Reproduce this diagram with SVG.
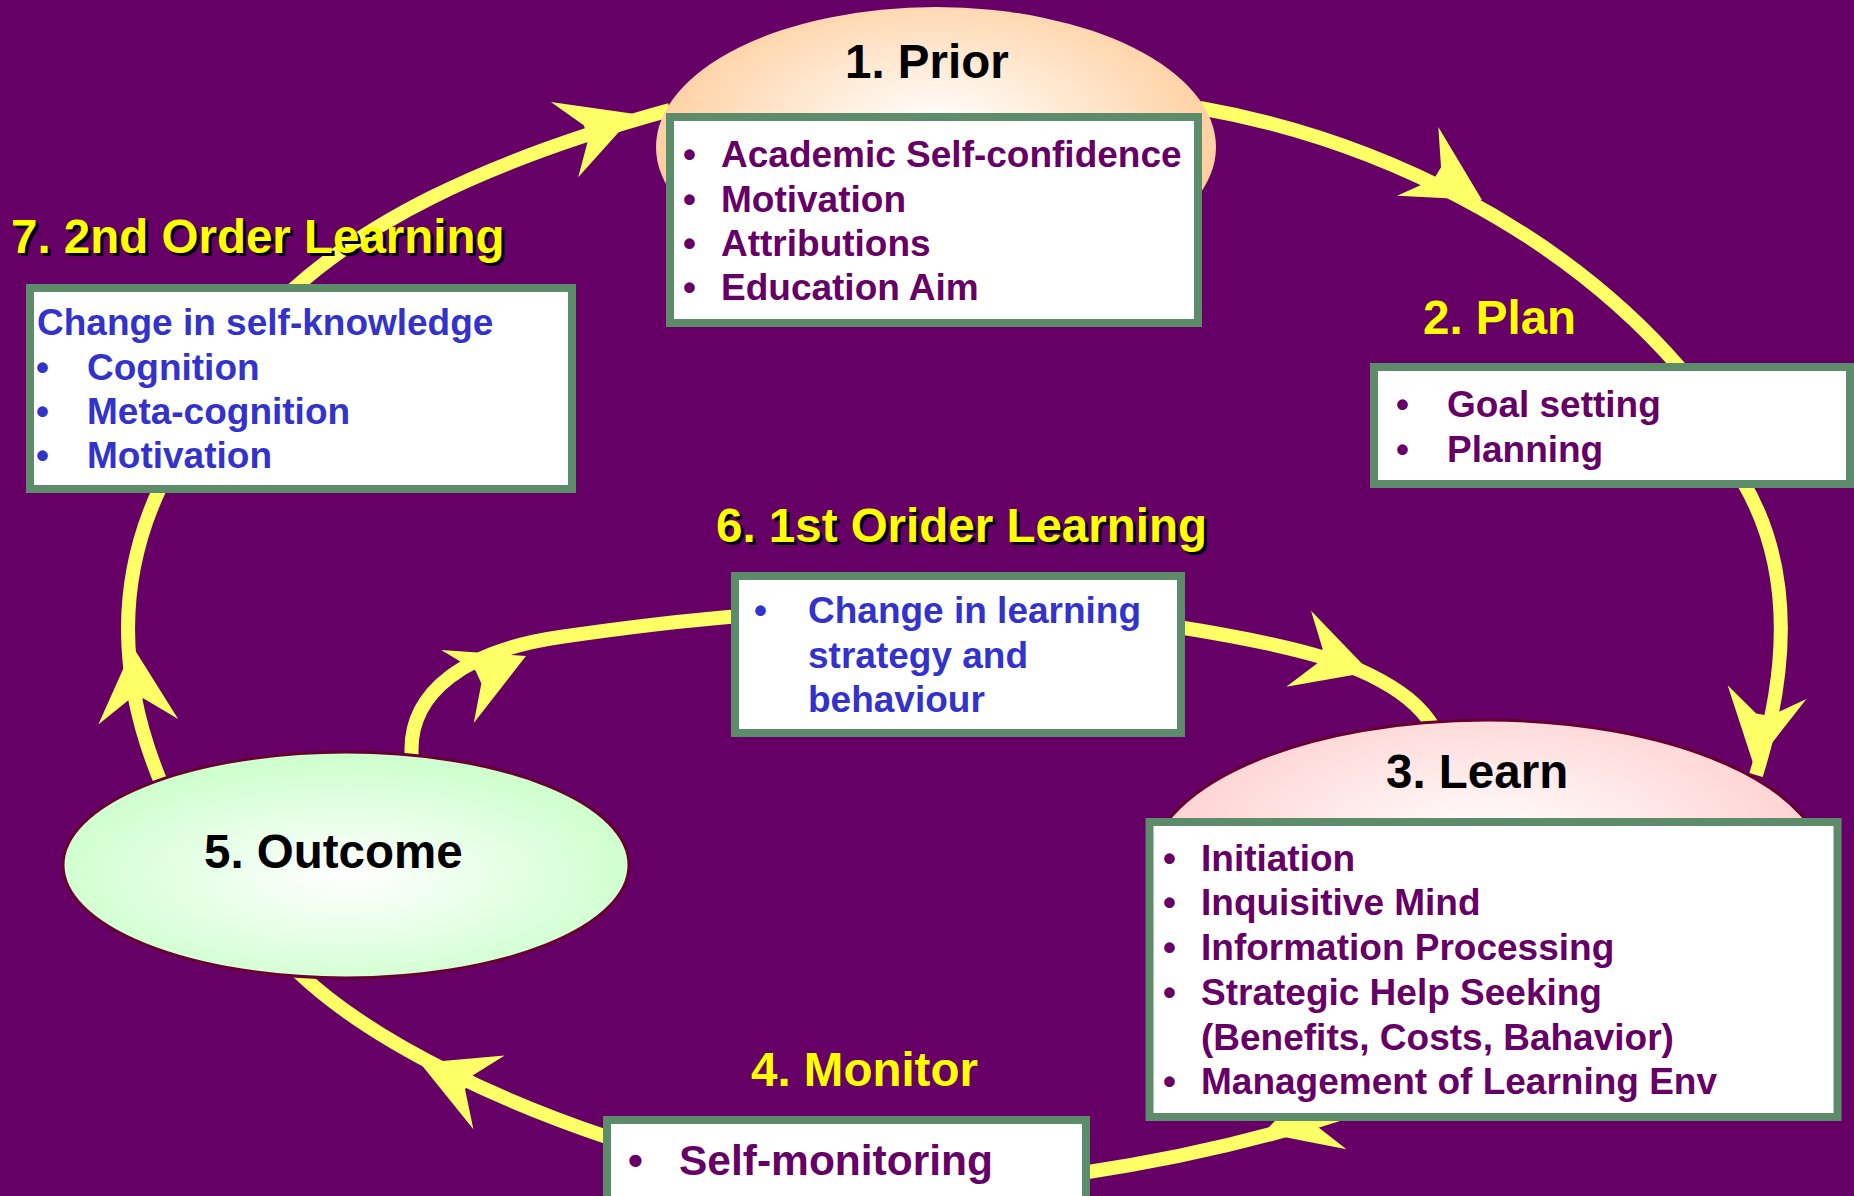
<svg xmlns="http://www.w3.org/2000/svg" xmlns:xlink="http://www.w3.org/1999/xlink" width="1854" height="1196" viewBox="0 0 1854 1196">
<style>
.conn{fill:none;stroke:#FFFF66;stroke-width:14}
.ah{fill:#FFFF66}
.box{fill:#FFFFFF;stroke:#5C8C6A;stroke-width:8}
.t{font-family:"Liberation Sans",Arial,sans-serif;font-weight:bold}
.body{font-size:37px;fill:#660066}
.big{font-size:42.5px}
.blue{fill:#3333CC}
.title{font-size:47.5px;fill:#000000}
.yt{fill:#FFFF00}
.sh{fill:#000000}
.ell{stroke:#660033;stroke-width:3}
</style>
<defs>
<radialGradient id="gPrior" cx="0.5" cy="0.42" r="0.55">
<stop offset="0" stop-color="#FFFFFF"/>
<stop offset="1" stop-color="#FFCC99"/>
</radialGradient>
<radialGradient id="gLearn" cx="0.5" cy="0.4" r="0.55">
<stop offset="0" stop-color="#FFFFFF"/>
<stop offset="1" stop-color="#FFCCCC"/>
</radialGradient>
<radialGradient id="gOut" cx="0.5" cy="0.55" r="0.55">
<stop offset="0" stop-color="#FFFFFF"/>
<stop offset="1" stop-color="#CCFFCC"/>
</radialGradient>
<path id="ah" d="M0,0 L-75,-40 L-52,-7 L-52,7 L-75,40 Z"/>
</defs>
<rect x="0" y="0" width="1854" height="1196" fill="#660066"/>

<g id="connectors">
<path class="conn" d="M1200,108 C1380,140 1560,230 1680,368"/>
<path class="conn" d="M1742,480 C1790,560 1792,660 1756,775"/>
<path class="conn" d="M1345,1112 C1260,1140 1170,1160 1082,1173"/>
<path class="conn" d="M610,1138 C520,1108 380,1050 298,972"/>
<path class="conn" d="M162,785 C122,690 112,590 160,488"/>
<path class="conn" d="M290,292 C360,228 470,165 670,110"/>
<path class="conn" d="M412,760 C405,690 470,650 560,637 S690,620 740,616"/>
<path class="conn" d="M1178,627 C1260,640 1330,655 1370,675 C1400,690 1420,705 1434,728"/>
<use xlink:href="#ah" class="ah" transform="translate(1482,200) rotate(31)"/>
<use xlink:href="#ah" class="ah" transform="translate(1754,766) rotate(100)"/>
<use xlink:href="#ah" class="ah" transform="translate(1263,1133) rotate(163)"/>
<use xlink:href="#ah" class="ah" transform="translate(420,1063) rotate(203)"/>
<use xlink:href="#ah" class="ah" transform="translate(133,647) rotate(266)"/>
<use xlink:href="#ah" class="ah" transform="translate(526,656) rotate(-24)"/>
<use xlink:href="#ah" class="ah" transform="translate(1370,672) rotate(18)"/>
<use xlink:href="#ah" class="ah" transform="translate(635,114) rotate(-20)"/>
</g>

<g id="prior">
<ellipse cx="936" cy="147" rx="280" ry="140" fill="url(#gPrior)"/>
<text class="t title" x="845" y="78">1. Prior</text>
<rect class="box" x="670" y="117" width="528" height="206"/>
<text class="t body" x="683" y="167">•</text>
<text class="t body" x="721" y="167">Academic Self-confidence</text>
<text class="t body" x="683" y="212">•</text>
<text class="t body" x="721" y="212">Motivation</text>
<text class="t body" x="683" y="256">•</text>
<text class="t body" x="721" y="256">Attributions</text>
<text class="t body" x="683" y="300">•</text>
<text class="t body" x="721" y="300">Education Aim</text>
</g>

<g id="plan">
<text class="t title yt" x="1423" y="334">2. Plan</text>
<rect class="box" x="1374" y="367" width="476" height="117"/>
<text class="t body" x="1396" y="417">•</text>
<text class="t body" x="1447" y="417">Goal setting</text>
<text class="t body" x="1396" y="462">•</text>
<text class="t body" x="1447" y="462">Planning</text>
</g>

<g id="learn">
<ellipse class="ell" cx="1487" cy="870" rx="338" ry="150" fill="url(#gLearn)"/>
<text class="t title" x="1386" y="788">3. Learn</text>
<rect class="box" x="1149.5" y="822" width="688" height="295"/>
<text class="t body" x="1163" y="871">•</text>
<text class="t body" x="1201" y="871">Initiation</text>
<text class="t body" x="1163" y="915">•</text>
<text class="t body" x="1201" y="915">Inquisitive Mind</text>
<text class="t body" x="1163" y="960">•</text>
<text class="t body" x="1201" y="960">Information Processing</text>
<text class="t body" x="1163" y="1005">•</text>
<text class="t body" x="1201" y="1005">Strategic Help Seeking</text>
<text class="t body" x="1201" y="1050">(Benefits, Costs, Bahavior)</text>
<text class="t body" x="1163" y="1094">•</text>
<text class="t body" x="1201" y="1094">Management of Learning Env</text>
</g>

<g id="monitor">
<text class="t title yt" x="751" y="1086">4. Monitor</text>
<rect class="box" x="607" y="1120" width="479" height="110"/>
<text class="t body big" x="628" y="1175">•</text>
<text class="t body big" x="679" y="1175">Self-monitoring</text>
</g>

<g id="outcome">
<ellipse class="ell" cx="346" cy="865" rx="283" ry="113" fill="url(#gOut)"/>
<text class="t title" x="204" y="868">5. Outcome</text>
</g>

<g id="first-order">
<text class="t title sh" x="719" y="545">6. 1st Orider Learning</text>
<text class="t title yt" x="716" y="542">6. 1st Orider Learning</text>
<rect class="box" x="735" y="576" width="446" height="157"/>
<text class="t body blue" x="754" y="623">•</text>
<text class="t body blue" x="808" y="623">Change in learning</text>
<text class="t body blue" x="808" y="668">strategy and</text>
<text class="t body blue" x="808" y="712">behaviour</text>
</g>

<g id="second-order">
<text class="t title sh" x="14" y="256">7. 2nd Order Learning</text>
<text class="t title yt" x="11" y="253">7. 2nd Order Learning</text>
<rect class="box" x="30" y="288" width="542" height="201"/>
<text class="t body blue" x="37" y="335">Change in self-knowledge</text>
<text class="t body blue" x="36" y="380">•</text>
<text class="t body blue" x="87" y="380">Cognition</text>
<text class="t body blue" x="36" y="424">•</text>
<text class="t body blue" x="87" y="424">Meta-cognition</text>
<text class="t body blue" x="36" y="468">•</text>
<text class="t body blue" x="87" y="468">Motivation</text>
</g>
</svg>
